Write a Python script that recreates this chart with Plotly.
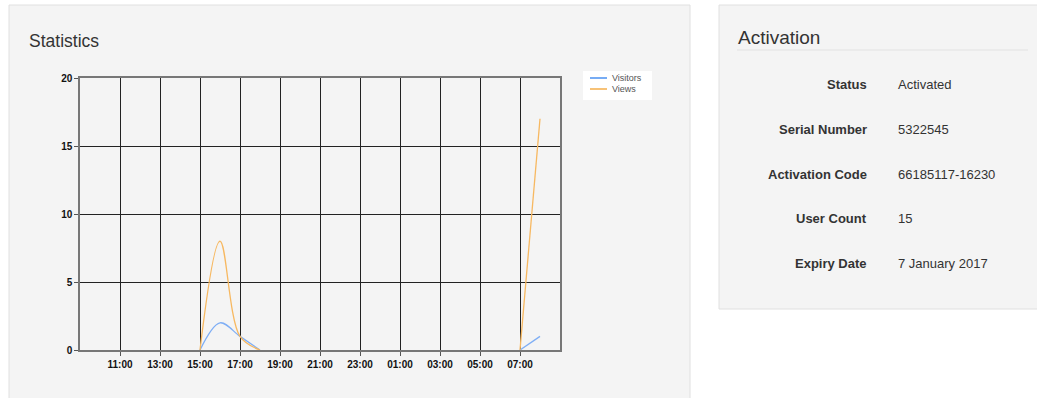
import plotly.graph_objects as go

W, H = 1037, 398

# hourly data (None = no activity recorded)
hours = ["2016-12-06 10:00", "2016-12-06 11:00", "2016-12-06 12:00", "2016-12-06 13:00",
         "2016-12-06 14:00", "2016-12-06 15:00", "2016-12-06 16:00", "2016-12-06 17:00",
         "2016-12-06 18:00", "2016-12-06 19:00", "2016-12-06 20:00", "2016-12-06 21:00",
         "2016-12-06 22:00", "2016-12-06 23:00", "2016-12-07 00:00", "2016-12-07 01:00",
         "2016-12-07 02:00", "2016-12-07 03:00", "2016-12-07 04:00", "2016-12-07 05:00",
         "2016-12-07 06:00", "2016-12-07 07:00", "2016-12-07 08:00"]
visitors = [None, None, None, None, None, 0, 2, 1, 0, None, None, None, None, None,
            None, None, None, None, None, None, None, 0, 1]
views = [None, None, None, None, None, 0, 8, 1, 0, None, None, None, None, None,
         None, None, None, None, None, None, None, 0, 17]

tick_vals = ["2016-12-06 11:00", "2016-12-06 13:00", "2016-12-06 15:00", "2016-12-06 17:00",
             "2016-12-06 19:00", "2016-12-06 21:00", "2016-12-06 23:00", "2016-12-07 01:00",
             "2016-12-07 03:00", "2016-12-07 05:00", "2016-12-07 07:00"]
tick_text = ["11:00", "13:00", "15:00", "17:00", "19:00", "21:00", "23:00",
             "01:00", "03:00", "05:00", "07:00"]

series_names = ["Visitors", "Views"]
series_colors = ["#7eaef5", "#f7b860"]
legend_colors = ["#4a90f0", "#f5ae4a"]

activation_labels = ["Status", "Serial Number", "Activation Code", "User Count", "Expiry Date"]
activation_values = ["Activated", "5322545", "66185117-16230", "15", "7 January 2017"]


def px(x):
    return x / W


def py(y):
    return 1 - y / H


fig = go.Figure()
for name, ys, col in zip(series_names, [visitors, views], series_colors):
    fig.add_trace(go.Scatter(x=hours, y=ys, name=name, mode="lines", connectgaps=False,
                             line=dict(color=col, width=1.3, shape="spline", smoothing=1)))

tick_font = dict(family="Liberation Sans Narrow, Arial Narrow, Liberation Sans",
                 size=10, color="#111", weight="bold")

fig.update_xaxes(type="date", domain=[px(80), px(560)], automargin=False,
                 range=["2016-12-06 09:00", "2016-12-07 09:00"],
                 tickvals=tick_vals, ticktext=tick_text, tickfont=tick_font,
                 showgrid=True, gridcolor="#222", gridwidth=1,
                 ticks="outside", ticklen=4, tickcolor="#555",
                 showline=True, linecolor="#777", linewidth=1.5, mirror=True,
                 zeroline=False)
fig.update_yaxes(domain=[py(350), py(78)], range=[0, 20], automargin=False,
                 tickvals=[0, 5, 10, 15, 20], tickfont=tick_font,
                 showgrid=True, gridcolor="#222", gridwidth=1,
                 ticks="outside", ticklen=4, tickcolor="#555",
                 showline=True, linecolor="#777", linewidth=1.5, mirror=True,
                 zeroline=False)

shapes = [
    # statistics panel
    dict(type="rect", xref="paper", yref="paper", x0=px(9), x1=px(690), y0=py(405), y1=py(5),
         fillcolor="#f4f4f4", line=dict(color="#e0e0e0", width=1), layer="below"),
    # activation panel
    dict(type="rect", xref="paper", yref="paper", x0=px(719), x1=px(1045), y0=py(309), y1=py(5),
         fillcolor="#f4f4f4", line=dict(color="#e0e0e0", width=1), layer="below"),
    dict(type="line", xref="paper", yref="paper", x0=px(737), x1=px(1028), y0=py(50), y1=py(50),
         line=dict(color="#e2e2e2", width=1), layer="below"),
    # legend box
    dict(type="rect", xref="paper", yref="paper", x0=px(583), x1=px(652), y0=py(100), y1=py(71),
         fillcolor="white", line=dict(width=0), layer="above"),
]

annotations = [
    dict(text="Statistics", x=px(27), y=py(41), xref="paper", yref="paper",
         xanchor="left", yanchor="middle", showarrow=False,
         font=dict(family="Liberation Sans, Arial", size=17.5, color="#333")),
    dict(text="Activation", x=px(736), y=py(37), xref="paper", yref="paper",
         xanchor="left", yanchor="middle", showarrow=False,
         font=dict(family="Liberation Sans, Arial", size=19, color="#333")),
]

# compact legend
for i, (name, col) in enumerate(zip(series_names, legend_colors)):
    ly = 78 + 11 * i
    shapes.append(dict(type="line", xref="paper", yref="paper", x0=px(590), x1=px(607),
                       y0=py(ly), y1=py(ly), line=dict(color=col, width=1.5), layer="above"))
    annotations.append(dict(text=name, x=px(610), y=py(ly), xref="paper", yref="paper",
                            xanchor="left", yanchor="middle", showarrow=False,
                            font=dict(family="Liberation Sans, Arial", size=9, color="#555")))

row_y = [84, 129, 174, 218, 263]
for lab, val, yy in zip(activation_labels, activation_values, row_y):
    annotations.append(dict(text="<b>" + lab + "</b>", x=px(869), y=py(yy), xref="paper", yref="paper",
                            xanchor="right", yanchor="middle", showarrow=False,
                            font=dict(family="Liberation Sans, Arial", size=13, color="#333")))
    annotations.append(dict(text=val, x=px(896), y=py(yy), xref="paper", yref="paper",
                            xanchor="left", yanchor="middle", showarrow=False,
                            font=dict(family="Liberation Sans, Arial", size=13, color="#333")))

fig.update_layout(
    width=W, height=H,
    margin=dict(l=0, r=0, t=0, b=0),
    paper_bgcolor="white", plot_bgcolor="rgba(0,0,0,0)",
    shapes=shapes, annotations=annotations,
    showlegend=False,
)

fig.write_html("out.html", config={"displayModeBar": False},
               post_script="document.body.style.margin='0px';")
